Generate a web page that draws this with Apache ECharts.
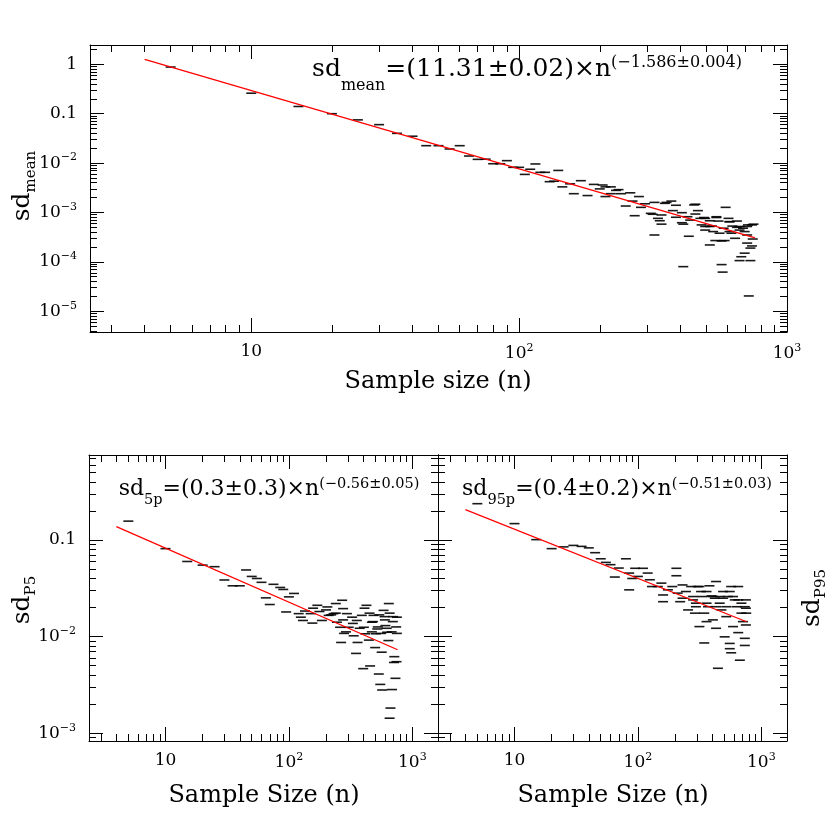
<!DOCTYPE html>
<html>
<head>
<meta charset="utf-8">
<script src="https://cdn.jsdelivr.net/npm/echarts@6/dist/echarts.min.js"></script>
<style>
  html, body { margin: 0; padding: 0; background: #fff; }
  #chart { width: 830px; height: 830px; }
</style>
</head>
<body>
<div id="chart"></div>
<script>
// sd of the mean vs sample size (top panel)
const topN = [5, 10, 15, 20, 25, 30, 35, 40, 45, 50, 55, 60, 65, 70, 75, 80, 85, 90, 95, 100,
  105, 110, 115, 120, 125, 130, 135, 140, 145, 155, 160, 170, 180, 190, 200, 205, 210, 210, 220, 220,
  230, 235, 240, 250, 260, 265, 270, 280, 285, 295, 310, 320, 320, 330, 335, 340, 340, 355, 370, 375,
  385, 405, 410, 410, 425, 430, 435, 450, 455, 465, 475, 480, 495, 495, 515, 515, 525, 540, 545, 555,
  560, 570, 575, 580, 585, 590, 605, 610, 620, 625, 640, 650, 650, 665, 665, 675, 685, 695, 710, 710,
  710, 720, 730, 730, 740, 740, 745, 350, 455, 490, 545, 610, 715, 750, 315, 385, 405, 495, 515, 530,
  665, 610, 695, 570];
const topSd = [0.88, 0.26, 0.14, 0.10, 0.075, 0.060, 0.040, 0.035, 0.0225, 0.0225, 0.0193, 0.0225, 0.0139, 0.0119, 0.0120, 0.0097, 0.0097, 0.0112, 0.0082, 0.0082,
  0.0059, 0.0075, 0.0096, 0.0065, 0.0065, 0.0042, 0.0043, 0.0071, 0.0033, 0.0038, 0.0024, 0.0044, 0.0022, 0.0037, 0.0030, 0.0036, 0.0033, 0.0021, 0.0033, 0.0024,
  0.0028, 0.0029, 0.0024, 0.00135, 0.0025, 0.0017, 0.00086, 0.0021, 0.00127, 0.0015, 0.00096, 0.0016, 0.00035, 0.00076, 0.00068, 0.00058, 0.00089, 0.0016, 0.0017, 0.00109,
  0.0014, 0.00099, 0.00058, 0.00008, 0.00082, 0.00033, 0.0007, 0.00142, 0.00093, 0.00109, 0.00076, 0.00056, 0.00076, 0.00044, 0.00068, 0.00022, 0.00053, 0.00027, 0.00082, 0.00067,
  0.00038, 0.000088, 0.000062, 0.00048, 0.00027, 0.00127, 0.00076, 0.00065, 0.00038, 0.00053, 0.0003, 0.00067, 0.0005, 0.00044, 0.000106, 0.000127, 0.00048, 0.00015, 0.00035, 0.00024,
  0.00052, 0.0000204, 0.00019, 0.000106, 0.00056, 0.00021, 0.00029, 0.00153, 0.00147, 0.00079, 0.00079, 0.00065, 0.00056, 0.00058, 0.00092, 0.0008, 0.00062, 0.00052, 0.00052, 0.00041,
  0.00052, 0.00041, 0.00041, 0.000265];

// sd of the 5th percentile (bottom left)
const p5N = [5, 10, 15, 20, 25, 30, 35, 40, 45, 50, 55, 60, 65, 70, 75, 85, 90, 95, 100, 110,
  120, 125, 130, 135, 150, 155, 170, 185, 205, 210, 230, 240, 245, 260, 265, 270, 275, 280, 295, 305,
  325, 335, 350, 355, 360, 390, 400, 405, 415, 425, 445, 455, 470, 485, 500, 505, 520, 535, 550, 565,
  570, 585, 605, 625, 640, 645, 655, 665, 685, 710, 730, 750, 157, 177, 200, 220, 240, 275, 290, 330,
  375, 410, 450, 480, 525, 560, 595, 655, 695, 740, 750, 745, 715, 600, 620, 680, 700, 540, 470];
const p5Sd = [0.157, 0.0815, 0.060, 0.055, 0.053, 0.0386, 0.0336, 0.0336, 0.049, 0.042, 0.040, 0.0365, 0.0252, 0.0215, 0.0348, 0.0323, 0.0308, 0.018, 0.0258, 0.028,
  0.0173, 0.0159, 0.0147, 0.0184, 0.0173, 0.0138, 0.0211, 0.0147, 0.0203, 0.0166, 0.0173, 0.022, 0.0141, 0.0125, 0.0087, 0.0238, 0.0195, 0.0108, 0.0173, 0.0125,
  0.0159, 0.0102, 0.0067, 0.0147, 0.0087, 0.0166, 0.00466, 0.0125, 0.0107, 0.0211, 0.0092, 0.00497, 0.0141, 0.0166, 0.0077, 0.0107, 0.0120, 0.0041, 0.0032, 0.0069,
  0.0028, 0.0187, 0.0130, 0.0111, 0.0091, 0.022, 0.00143, 0.00182, 0.00283, 0.0054, 0.0037, 0.0159, 0.0197, 0.0182, 0.0189, 0.0168, 0.0175, 0.0149, 0.0112, 0.0137,
  0.0122, 0.0197, 0.0175, 0.0143, 0.0126, 0.0108, 0.0161, 0.0175, 0.0143, 0.0126, 0.0108, 0.0055, 0.0062, 0.0149, 0.0122, 0.0112, 0.0161, 0.0168, 0.0112];

// sd of the 95th percentile (bottom right)
const p95N = [5, 10, 15, 20, 25, 30, 35, 40, 45, 50, 55, 60, 65, 70, 80, 85, 85, 90, 95, 100,
  110, 120, 125, 130, 145, 155, 160, 160, 175, 190, 205, 205, 210, 220, 230, 230, 245, 255, 270, 280,
  290, 295, 315, 315, 325, 335, 345, 360, 345, 370, 380, 395, 405, 420, 430, 430, 445, 460, 475, 490,
  505, 520, 535, 555, 555, 570, 570, 590, 610, 630, 650, 650, 670, 690, 710, 735, 735, 750, 750, 750,
  305, 360, 405, 460, 490, 555, 590, 650, 690, 735, 755, 520, 430, 360, 295, 280];
const p95Sd = [0.238, 0.148, 0.101, 0.0815, 0.085, 0.088, 0.086, 0.083, 0.074, 0.064, 0.0587, 0.0556, 0.0414, 0.0513, 0.064, 0.0455, 0.0305, 0.040, 0.051, 0.042,
  0.051, 0.0455, 0.0388, 0.033, 0.033, 0.0358, 0.027, 0.023, 0.0305, 0.033, 0.051, 0.0427, 0.0282, 0.023, 0.0343, 0.025, 0.0293, 0.0189, 0.033, 0.026,
  0.0175, 0.0222, 0.033, 0.0127, 0.0293, 0.026, 0.0175, 0.0143, 0.0086, 0.0204, 0.0336, 0.0264, 0.0149, 0.025, 0.0372, 0.0122, 0.0047, 0.0222, 0.0189, 0.0293,
  0.00995, 0.0161, 0.026, 0.0085, 0.0075, 0.0068, 0.033, 0.0127, 0.024, 0.0204, 0.033, 0.011, 0.0057, 0.0175, 0.0143, 0.0081, 0.0096, 0.0132, 0.0197, 0.024,
  0.033, 0.0293, 0.026, 0.026, 0.025, 0.0293, 0.026, 0.024, 0.0222, 0.0204, 0.0175, 0.0204, 0.0204, 0.0222, 0.0204, 0.024];

// power-law fits: [coefficient, exponent], drawn over this n range
const topFit = [11.31, -1.586];
const p5Fit = [0.3, -0.56];
const p95Fit = [0.42, -0.51];
const fitRange = [4, 760];

// axis ranges and labelled decades
const topXRange = [2.5, 1000];
const topYRange = [3.8e-6, 2.46];
const botXRange = [2.4, 1615];
const botYRange = [8.3e-4, 0.76];
const topXMajor = [10, 100, 1000];
const topYMajor = [1e-5, 1e-4, 1e-3, 0.01, 0.1, 1];
const botXMajor = [10, 100, 1000];
const botYMajor = [1e-3, 0.01, 0.1];

const serif = "'DejaVu Serif', 'Liberation Serif', serif";

function powLabel(v) {
  const e = Math.round(Math.log10(v));
  if (e === 0) return '1';
  if (e === -1) return '0.1';
  if (e === 1) return '10';
  return '10{sup|' + (e < 0 ? '\u2212' + (-e) : e) + '}';
}

function minorTicks(range) {
  const out = [];
  for (let e = Math.floor(Math.log10(range[0])); e <= Math.ceil(Math.log10(range[1])); e++) {
    for (let m = 2; m <= 9; m++) {
      const v = m * Math.pow(10, e);
      if (v > range[0] && v < range[1]) out.push(v);
    }
  }
  return out;
}

// four axes per dimension: major + minor ticks, on both sides of the box
function axes(dim, grid, range, major, labelled) {
  const minor = minorTicks(range);
  const sides = dim === 'x' ? ['bottom', 'top'] : ['left', 'right'];
  const list = [];
  sides.forEach(function (side, i) {
    [[major, 14], [minor, 7]].forEach(function (t, j) {
      list.push({
        type: 'log', logBase: 10, gridIndex: grid, position: side,
        min: range[0], max: range[1],
        axisLine: { show: j === 0, onZero: false, lineStyle: { color: '#000', width: 1 } },
        axisTick: { show: true, inside: true, length: t[1], customValues: t[0], lineStyle: { color: '#000', width: 1 } },
        axisLabel: {
          show: labelled && i === 0 && j === 0,
          customValues: major,
          formatter: powLabel,
          hideOverlap: false,
          showMinLabel: true, showMaxLabel: true,
          margin: dim === 'x' ? 11 : 13,
          color: '#000', fontFamily: serif, fontSize: 17,
          rich: { sup: { fontFamily: serif, fontSize: 11, color: '#000', padding: [0, 0, 11, 0] } }
        },
        splitLine: { show: false },
        splitArea: { show: false }
      });
    });
  });
  return list;
}

function points(ns, sds) {
  return ns.map(function (n, i) { return [n, sds[i]]; });
}

function fitLine(fit) {
  return fitRange.map(function (n) { return [n, fit[0] * Math.pow(n, fit[1])]; });
}

function scatter(grid, data) {
  return {
    type: 'scatter', xAxisIndex: grid * 4, yAxisIndex: grid * 4, data: data,
    symbol: 'rect', symbolSize: [10, 1.6], itemStyle: { color: '#000', opacity: 0.9 }, silent: true
  };
}

function line(grid, fit) {
  return {
    type: 'line', xAxisIndex: grid * 4, yAxisIndex: grid * 4, data: fitLine(fit), z: 3,
    symbol: 'none', lineStyle: { color: '#ff0000', width: 1.3 }, silent: true
  };
}

function label(x, y, text, size, rot, rich) {
  return {
    type: 'text', x: x, y: y, rotation: rot || 0,
    style: { text: text, fontFamily: serif, fontSize: size, fill: '#000', align: 'center', verticalAlign: 'middle', rich: rich || {} }
  };
}

const formulaRich = function (main, small, subDrop, supRise) {
  return {
    m: { fontFamily: serif, fontSize: main, color: '#000' },
    sub: { fontFamily: serif, fontSize: small, color: '#000', padding: [subDrop, 0, 0, 0] },
    sup: { fontFamily: serif, fontSize: small, color: '#000', padding: [0, 0, supRise, 0] }
  };
};

const titleRich = {
  a: { fontFamily: serif, fontSize: 25, color: '#000' },
  b: { fontFamily: serif, fontSize: 15, color: '#000', padding: [18, 0, 0, 0] }
};

const chart = echarts.init(document.getElementById('chart'), null, { renderer: 'canvas' });
chart.setOption({
  animation: false,
  backgroundColor: '#fff',
  grid: [
    { left: 90, top: 45, width: 697, height: 287, outerBoundsMode: 'none' },
    { left: 89, top: 455, width: 349, height: 286, outerBoundsMode: 'none' },
    { left: 438, top: 455, width: 349, height: 286, outerBoundsMode: 'none' }
  ],
  xAxis: [].concat(
    axes('x', 0, topXRange, topXMajor, true),
    axes('x', 1, botXRange, botXMajor, true),
    axes('x', 2, botXRange, botXMajor, true)
  ),
  yAxis: [].concat(
    axes('y', 0, topYRange, topYMajor, true),
    axes('y', 1, botYRange, botYMajor, true),
    axes('y', 2, botYRange, botYMajor, false)
  ),
  series: [
    scatter(0, points(topN, topSd)), line(0, topFit),
    scatter(1, points(p5N, p5Sd)), line(1, p5Fit),
    scatter(2, points(p95N, p95Sd)), line(2, p95Fit)
  ],
  graphic: { elements: [
    label(527, 69, '{m|sd}{sub|mean}{m|=(11.31\u00b10.02)\u00d7n}{sup|(\u22121.586\u00b10.004)}', 25, 0, formulaRich(25, 16, 34, 13)),
    label(269, 489, '{m|sd}{sub|5p}{m|=(0.3\u00b10.3)\u00d7n}{sup|(\u22120.56\u00b10.05)}', 22, 0, formulaRich(22, 14.5, 22, 9)),
    label(617, 489, '{m|sd}{sub|95p}{m|=(0.4\u00b10.2)\u00d7n}{sup|(\u22120.51\u00b10.03)}', 22, 0, formulaRich(22, 14.5, 22, 9)),
    label(438, 382, 'Sample size (n)', 24),
    label(264, 796, 'Sample Size (n)', 24),
    label(613, 796, 'Sample Size (n)', 24),
    label(22, 186, '{a|sd}{b|mean}', 25, Math.PI / 2, titleRich),
    label(22, 600, '{a|sd}{b|P5}', 25, Math.PI / 2, titleRich),
    label(812, 598, '{a|sd}{b|P95}', 25, Math.PI / 2, titleRich)
  ] }
});
</script>
</body>
</html>
